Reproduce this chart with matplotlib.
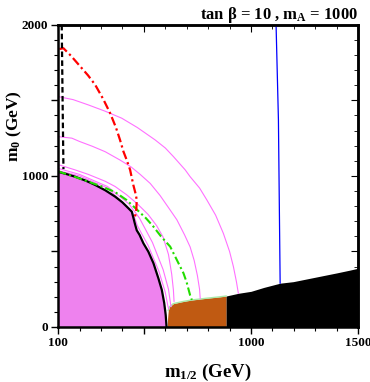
import matplotlib
matplotlib.use('Agg')
import matplotlib.pyplot as plt

plt.rcParams['font.family'] = ['Liberation Serif', 'DejaVu Serif']
plt.rcParams['font.weight'] = 'bold'
plt.rcParams['mathtext.fontset'] = 'custom'
plt.rcParams['mathtext.rm'] = 'Liberation Serif:bold'
plt.rcParams['mathtext.it'] = 'Liberation Serif:bold'
plt.rcParams['mathtext.bf'] = 'Liberation Serif:bold'

# excluded pink region (boundary = black solid line)
pink_x = [100, 140, 179, 230, 273, 320, 366, 400, 428, 444, 451, 459, 467, 480,
          498, 521, 545, 568, 584, 595, 602, 606]
pink_y = [1027, 1012, 995, 968, 940, 905, 863, 825, 786, 763, 725, 680, 640, 610,
          554, 499, 422, 322, 245, 160, 80, 0]

# brown region
brown_x = [609, 611, 614, 620, 638, 680, 724, 790, 856, 884]
brown_y = [0, 60, 110, 134, 155, 168, 179, 190, 200, 205]

# black region
dark_x = [884, 941, 1000, 1060, 1136, 1197, 1260, 1330, 1400, 1460, 1500]
dark_y = [205, 223, 236, 262, 290, 300, 318, 338, 358, 376, 389]

# red dash-dot
red_x = [106, 125, 160, 200, 240, 273, 310, 343, 370, 389, 405, 420, 436, 451,
         462, 467, 465, 459]
red_y = [1840, 1845, 1795, 1730, 1665, 1603, 1510, 1415, 1320, 1238, 1161, 1106,
         1040, 940, 880, 841, 780, 730]

# green dash-dot
green_x = [100, 170, 241, 300, 366, 420, 467, 510, 545, 580, 623, 654, 685, 700,
           716, 724]
green_y = [1030, 998, 962, 932, 893, 840, 778, 720, 664, 600, 532, 444, 356, 295,
           210, 179]

# black dashed
dash_x = [117, 121, 125]
dash_y = [2000, 1500, 1045]

# blue line
blue_x = [1117, 1128, 1136]
blue_y = [2000, 1371, 290]

# magenta contours
arcA_x = [100, 170, 241, 320, 397, 470, 553, 600, 638, 693, 716, 760, 794, 835,
          871, 900, 918, 932, 941]
arcA_y = [1525, 1505, 1470, 1428, 1382, 1320, 1238, 1185, 1128, 1040, 995, 920,
          841, 740, 620, 500, 399, 300, 223]
arcB_x = [100, 164, 200, 260, 320, 389, 440, 483, 530, 576, 620, 654, 690, 716,
          735, 750, 760, 763]
arcB_y = [1260, 1250, 1228, 1196, 1160, 1105, 1060, 1010, 950, 870, 780, 710,
          610, 530, 440, 340, 250, 190]
arcC_x = [100, 179, 241, 319, 366, 420, 470, 520, 560, 590, 615, 630, 638, 641]
arcC_y = [1075, 1040, 1010, 965, 930, 875, 815, 745, 670, 595, 480, 350, 245, 170]
arcD_x = [100, 200, 330, 420, 445, 458, 470, 520, 570, 600, 612, 616]
arcD_y = [1035, 1000, 920, 800, 765, 720, 670, 540, 370, 230, 140, 120]
arcE_x = [100, 200, 330, 430, 480, 540, 590, 615, 625, 628]
arcE_y = [1050, 1010, 930, 815, 720, 560, 380, 250, 150, 135]

fig = plt.figure(figsize=(3.7, 3.82), dpi=100)
ax = fig.add_axes([0.157, 0.144, 0.811, 0.791])

ax.fill_between(pink_x, pink_y, 0, color='violet', lw=0)
ax.fill_between(brown_x, brown_y, 0, color='#c05a12', lw=0)
ax.plot(brown_x[2:], brown_y[2:], color='#a8eaa8', lw=1)
ax.fill_between(dark_x, dark_y, 0, color='black', lw=0)

for xs, ys in [(arcA_x, arcA_y), (arcB_x, arcB_y), (arcC_x, arcC_y),
               (arcD_x, arcD_y), (arcE_x, arcE_y)]:
    ax.plot(xs, ys, color='#ff70ff', lw=0.8)

ax.plot(pink_x, pink_y, color='black', lw=1.6)
ax.plot(green_x, green_y, color='#22dd00', lw=1.5, ls=(0, (4, 1.5, 1, 1.5)))
ax.plot(red_x, red_y, color='red', lw=1.6, ls=(0, (4, 1.5, 1, 1.5)))
ax.plot(dash_x, dash_y, color='black', lw=1.6, ls=(0, (2.5, 1.5)))
ax.plot(blue_x, blue_y, color='blue', lw=0.9)

ax.set_xlim(100, 1500)
ax.set_ylim(0, 2000)

ax.set_xticks([100, 500, 1000, 1500])
ax.set_xticklabels(['100', '', '1000', '1500'])
ax.set_xticks(range(100, 1501, 100), minor=True)
ax.set_yticks([0, 500, 1000, 1500, 2000])
ax.set_yticklabels(['0', '', '1000', '', '2000'])
ax.set_yticks(range(0, 2001, 100), minor=True)
ax.tick_params(which='major', direction='out', length=5, width=1, labelsize=9.5, pad=2)
ax.tick_params(which='minor', direction='out', length=3, width=0.8)

top = ax.secondary_xaxis('top')
top.set_xticks([100, 500, 1000, 1500])
top.set_xticks(range(100, 1501, 100), minor=True)
top.tick_params(which='major', direction='in', length=5, labeltop=False)
top.tick_params(which='minor', direction='in', length=3)
right = ax.secondary_yaxis('right')
right.set_yticks([0, 500, 1000, 1500, 2000])
right.set_yticks(range(0, 2001, 100), minor=True)
right.tick_params(which='major', direction='in', length=5, labelright=False)
right.tick_params(which='minor', direction='in', length=3)

for s in ax.spines.values():
    s.set_linewidth(1.8)
top.spines['top'].set_linewidth(1.8)
right.spines['right'].set_linewidth(1.8)

ax.set_xlabel('m$_{1/2}$ (GeV)', fontsize=13.5, fontweight='bold')
ax.xaxis.set_label_coords(0.5, -0.115)
ax.set_ylabel('m$_0$ (GeV)', fontsize=12.5, fontweight='bold')
ax.yaxis.set_label_coords(-0.115, 0.665)
ax.set_title(r'tan $\beta$ = 10 , m$_\mathrm{A}$ = 1000', loc='right',
             fontsize=12, fontweight='bold', pad=4)

fig.savefig('out.png', dpi=100)
